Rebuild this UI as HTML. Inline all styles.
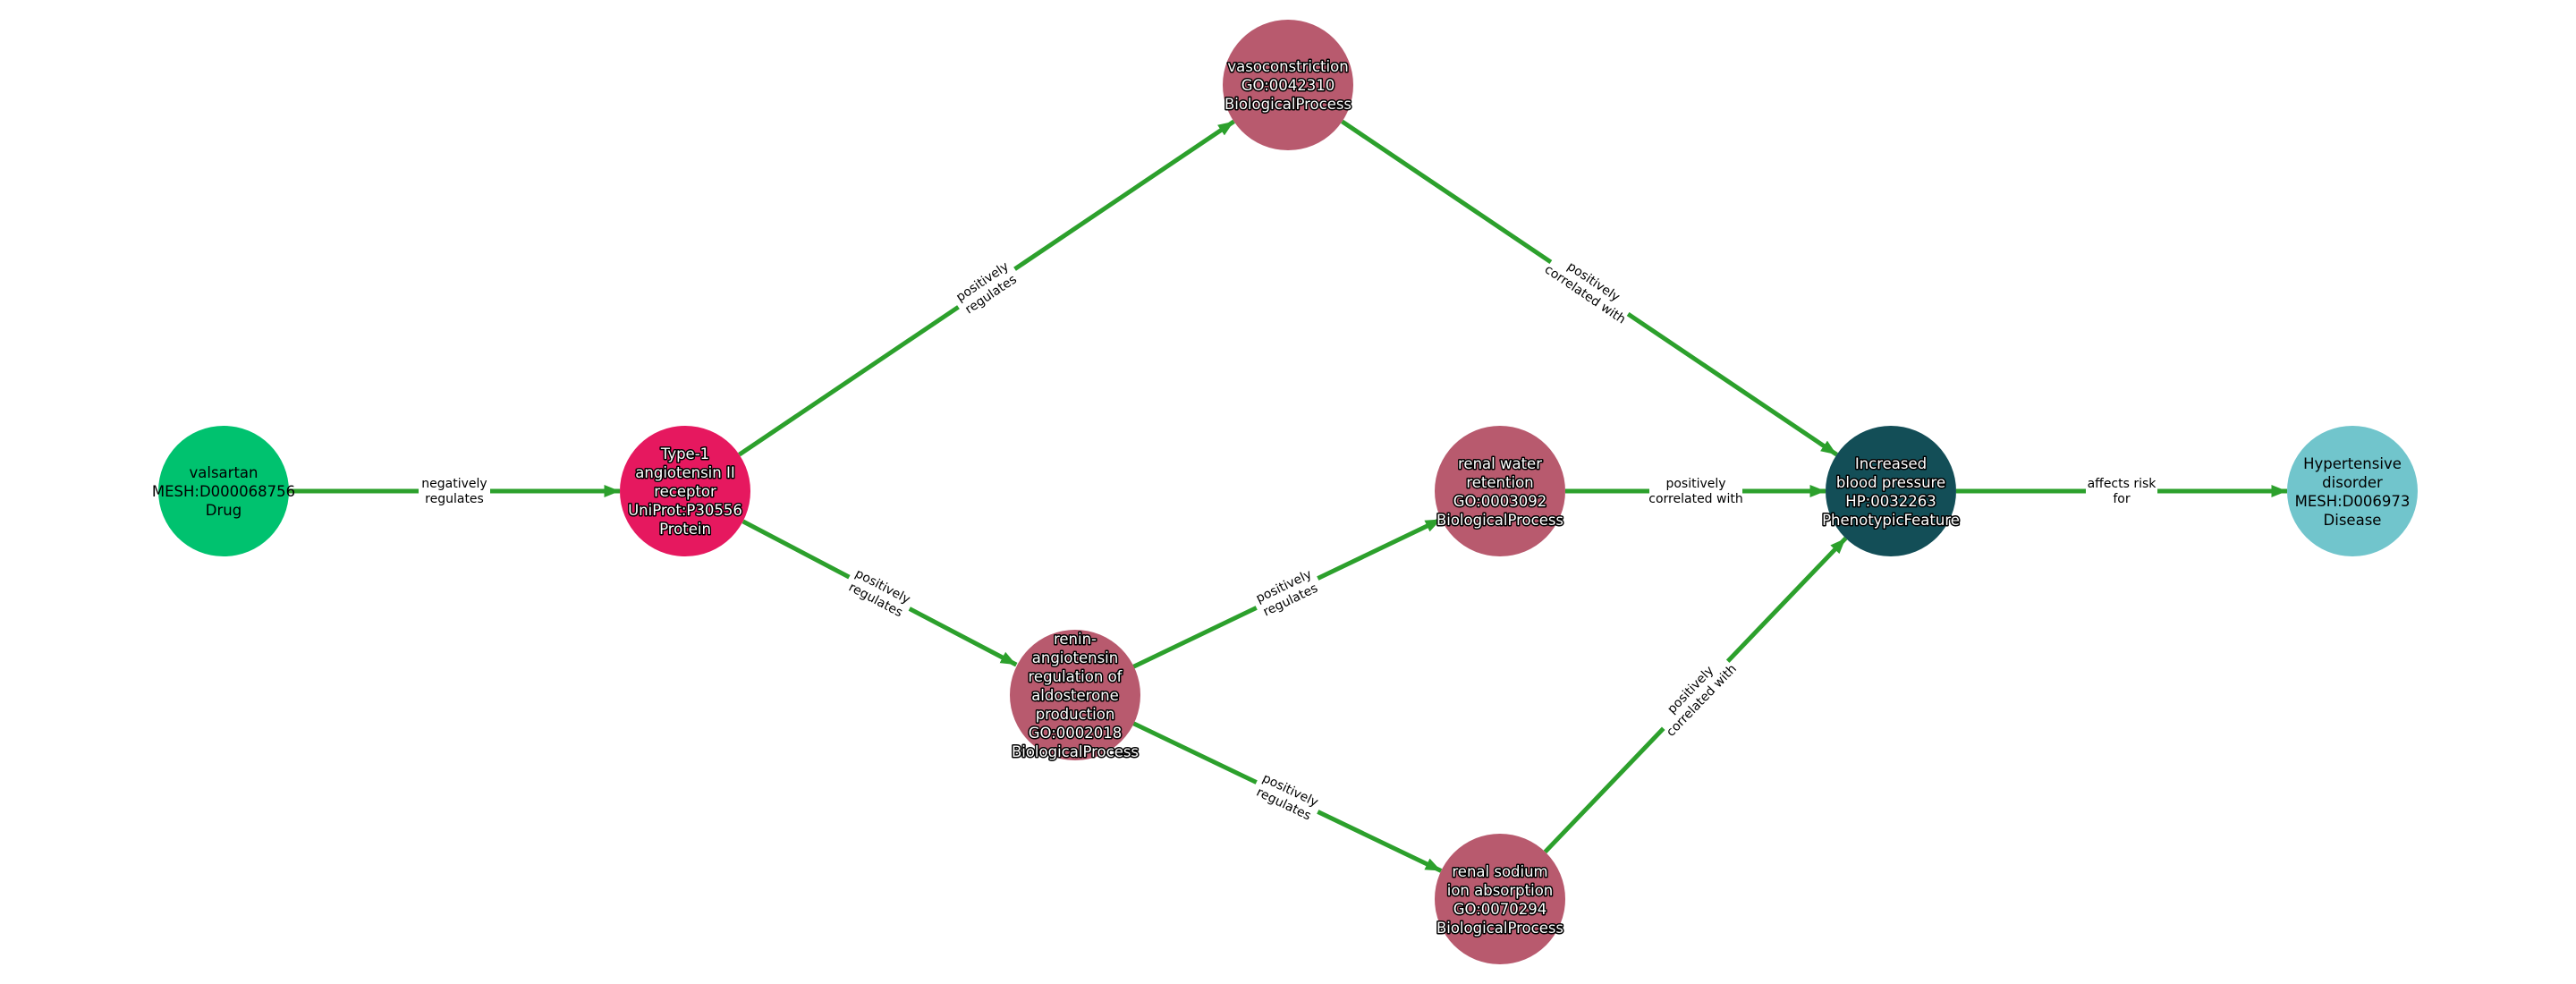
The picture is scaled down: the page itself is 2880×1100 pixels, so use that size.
<!DOCTYPE html>
<html><head><meta charset="utf-8"><style>
html,body{margin:0;padding:0;background:#fff;width:2880px;height:1100px;overflow:hidden}
svg{display:block}
.n{font-family:"DejaVu Sans","Liberation Sans",sans-serif;font-size:16.5px;text-anchor:middle}
.w{fill:#fff;stroke:#000;stroke-width:3px;paint-order:stroke;stroke-linejoin:round}
.b{fill:#000}
.e{font-family:"DejaVu Sans","Liberation Sans",sans-serif;font-size:14px;text-anchor:middle;fill:#000}
line{stroke:#2ca02c;stroke-width:5}
</style></head><body>
<svg width="2880" height="1100" viewBox="0 0 2880 1100">
<defs><marker id="a" viewBox="0 0 10 10" refX="10" refY="5" markerWidth="3.5" markerHeight="3.5" orient="auto" markerUnits="strokeWidth"><path d="M0,1 L10,5 L0,9 z" fill="#2ca02c"/></marker></defs>
<g marker-end="url(#a)">
<line x1="323" y1="549" x2="693" y2="549"/>
<line x1="826.5" y1="508.2" x2="1379.5" y2="135.8"/>
<line x1="830.7" y1="582.9" x2="1136.3" y2="743.1"/>
<line x1="1500.5" y1="135.8" x2="2053.5" y2="508.2"/>
<line x1="1266.8" y1="745.5" x2="1611.2" y2="580.5"/>
<line x1="1266.8" y1="808.5" x2="1611.2" y2="973.5"/>
<line x1="1750" y1="549" x2="2041" y2="549"/>
<line x1="1727.5" y1="952.3" x2="2063.5" y2="601.7"/>
<line x1="2187" y1="549" x2="2557" y2="549"/>
</g>
<g transform="translate(508,549)"><rect x="-40" y="-20" width="80" height="40" fill="#fff"/><text class="e" y="-4">negatively</text><text class="e" y="13">regulates</text></g>
<g transform="translate(1103,322) rotate(-34)"><rect x="-38" y="-20" width="76" height="40" fill="#fff"/><text class="e" y="-4">positively</text><text class="e" y="13">regulates</text></g>
<g transform="translate(983,663) rotate(27.7)"><rect x="-38" y="-20" width="76" height="40" fill="#fff"/><text class="e" y="-4">positively</text><text class="e" y="13">regulates</text></g>
<g transform="translate(1777,322) rotate(34)"><rect x="-52" y="-20" width="104" height="40" fill="#fff"/><text class="e" y="-4">positively</text><text class="e" y="13">correlated with</text></g>
<g transform="translate(1439,663) rotate(-25.6)"><rect x="-38" y="-20" width="76" height="40" fill="#fff"/><text class="e" y="-4">positively</text><text class="e" y="13">regulates</text></g>
<g transform="translate(1439,891) rotate(25.6)"><rect x="-38" y="-20" width="76" height="40" fill="#fff"/><text class="e" y="-4">positively</text><text class="e" y="13">regulates</text></g>
<g transform="translate(1896,549)"><rect x="-52" y="-20" width="104" height="40" fill="#fff"/><text class="e" y="-4">positively</text><text class="e" y="13">correlated with</text></g>
<g transform="translate(1896,777) rotate(-46)"><rect x="-52" y="-20" width="104" height="40" fill="#fff"/><text class="e" y="-4">positively</text><text class="e" y="13">correlated with</text></g>
<g transform="translate(2372,549)"><rect x="-40" y="-20" width="80" height="40" fill="#fff"/><text class="e" y="-4">affects risk</text><text class="e" y="13">for</text></g>
<circle cx="250" cy="549" r="73" fill="#00c26f"/>
<text class="n b"><tspan x="250" y="534">valsartan</tspan><tspan x="250" y="555">MESH:D000068756</tspan><tspan x="250" y="576">Drug</tspan></text>
<circle cx="766" cy="549" r="73" fill="#e6185f"/>
<text class="n w"><tspan x="766" y="513">Type-1</tspan><tspan x="766" y="534">angiotensin II</tspan><tspan x="766" y="555">receptor</tspan><tspan x="766" y="576">UniProt:P30556</tspan><tspan x="766" y="597">Protein</tspan></text>
<circle cx="1440" cy="95" r="73" fill="#b85a6e"/>
<text class="n w"><tspan x="1440" y="80">vasoconstriction</tspan><tspan x="1440" y="101">GO:0042310</tspan><tspan x="1440" y="122">BiologicalProcess</tspan></text>
<circle cx="1677" cy="549" r="73" fill="#b85a6e"/>
<text class="n w"><tspan x="1677" y="524">renal water</tspan><tspan x="1677" y="545">retention</tspan><tspan x="1677" y="566">GO:0003092</tspan><tspan x="1677" y="587">BiologicalProcess</tspan></text>
<circle cx="1202" cy="777" r="73" fill="#b85a6e"/>
<text class="n w"><tspan x="1202" y="720">renin-</tspan><tspan x="1202" y="741">angiotensin</tspan><tspan x="1202" y="762">regulation of</tspan><tspan x="1202" y="783">aldosterone</tspan><tspan x="1202" y="804">production</tspan><tspan x="1202" y="825">GO:0002018</tspan><tspan x="1202" y="846">BiologicalProcess</tspan></text>
<circle cx="1677" cy="1005" r="73" fill="#b85a6e"/>
<text class="n w"><tspan x="1677" y="980">renal sodium</tspan><tspan x="1677" y="1001">ion absorption</tspan><tspan x="1677" y="1022">GO:0070294</tspan><tspan x="1677" y="1043">BiologicalProcess</tspan></text>
<circle cx="2114" cy="549" r="73" fill="#134e57"/>
<text class="n w"><tspan x="2114" y="524">Increased</tspan><tspan x="2114" y="545">blood pressure</tspan><tspan x="2114" y="566">HP:0032263</tspan><tspan x="2114" y="587">PhenotypicFeature</tspan></text>
<circle cx="2630" cy="549" r="73" fill="#71c5cc"/>
<text class="n b"><tspan x="2630" y="524">Hypertensive</tspan><tspan x="2630" y="545">disorder</tspan><tspan x="2630" y="566">MESH:D006973</tspan><tspan x="2630" y="587">Disease</tspan></text>
</svg>
</body></html>
